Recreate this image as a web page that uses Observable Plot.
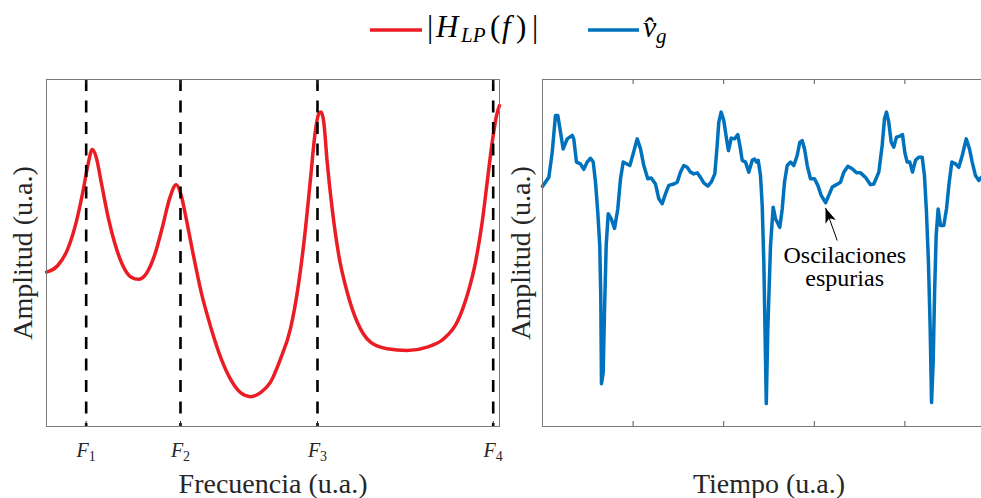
<!DOCTYPE html>
<html>
<head>
<meta charset="utf-8">
<script src="https://cdn.jsdelivr.net/npm/d3@7"></script>
<script src="https://cdn.jsdelivr.net/npm/@observablehq/plot@0.6"></script>
<style>
  html, body { margin: 0; padding: 0; background: #fff; overflow: hidden; }
  #fig { position: relative; width: 981px; height: 498px; overflow: hidden; background: #fff; }
  #legend { position: absolute; left: 0; top: 0; width: 981px; height: 60px; }
  #left { position: absolute; left: 0; top: 60px; width: 500px; height: 438px; }
  #right { position: absolute; left: 500px; top: 60px; width: 500px; height: 438px; }
  #left svg, #right svg { max-width: none !important; }
</style>
</head>
<body>
<div id="fig">
  <div id="legend"></div>
  <div id="left"></div>
  <div id="right"></div>
</div>
<script>
// Low-pass filter magnitude response |H_LP(f)| (arbitrary units)
const freq = [0, 2.49, 4.70, 6.56, 8.01, 9.12, 10.09, 10.97, 12.08, 13.53, 15.01, 16.84, 18.70, 20.31, 22.01, 23.84, 25.67, 27.15, 28.63, 29.74, 30.84, 32.30, 34.15, 36.36, 38.57, 40.77, 42.98, 45.03, 47.40, 49.45, 51.66, 53.86, 55.70, 57.17, 58.28, 59.23, 60.11, 60.64, 61.21, 61.96, 63.07, 64.53, 66.38, 68.59, 71.52, 75.21, 79.62, 84.04, 87.70, 90.66, 92.87, 94.70, 96.18, 97.28, 98.39, 99.34, 100];
const magnitude = [44.5, 46.4, 51.2, 58.9, 67.5, 75.2, 79.8, 77.6, 70.4, 60.8, 53.1, 46.4, 43.0, 42.4, 44.0, 49.3, 57.9, 65.6, 69.7, 66.6, 59.9, 50.2, 38.7, 28.2, 19.5, 13.3, 9.6, 8.6, 9.9, 12.8, 19.5, 28.2, 41.6, 57.0, 71.4, 83.9, 90.1, 90.6, 87.7, 76.2, 62.7, 49.3, 38.7, 30.1, 24.3, 22.4, 21.9, 22.9, 25.3, 30.1, 37.8, 47.3, 58.9, 70.4, 81.9, 89.6, 92.5];

// Formant frequencies F1..F4
const formants = [8.76, 29.58, 59.82, 98.61];
const formantNames = ["F1", "F2", "F3", "F4"];

// Estimated glottal flow derivative v̂_g over time (arbitrary units)
const time = [0, 0.070, 0.107, 0.143, 0.169, 0.199, 0.228, 0.273, 0.328, 0.345, 0.375, 0.419, 0.456, 0.493, 0.530, 0.560, 0.585, 0.610, 0.632, 0.643, 0.651, 0.670, 0.684, 0.703, 0.725, 0.758, 0.795, 0.831, 0.861, 0.891, 0.927, 0.964, 1.001, 1.045, 1.082, 1.118, 1.162, 1.200, 1.247, 1.284, 1.321, 1.358, 1.394, 1.449, 1.487, 1.523, 1.560, 1.597, 1.634, 1.670, 1.708, 1.744, 1.780, 1.825, 1.862, 1.902, 1.928, 1.946, 1.972, 2.001, 2.031, 2.053, 2.083, 2.119, 2.156, 2.185, 2.204, 2.241, 2.277, 2.315, 2.340, 2.362, 2.381, 2.406, 2.425, 2.443, 2.470, 2.487, 2.517, 2.546, 2.572, 2.619, 2.646, 2.671, 2.701, 2.737, 2.774, 2.811, 2.840, 2.866, 2.892, 2.922, 2.958, 3.002, 3.039, 3.076, 3.124, 3.160, 3.198, 3.245, 3.289, 3.326, 3.370, 3.418, 3.466, 3.510, 3.565, 3.620, 3.657, 3.712, 3.749, 3.775, 3.797, 3.822, 3.849, 3.877, 3.907, 3.944, 3.974, 3.999, 4.025, 4.054, 4.084, 4.117, 4.153, 4.191, 4.216, 4.238, 4.260, 4.279, 4.294, 4.312, 4.327, 4.345, 4.367, 4.393, 4.429, 4.459, 4.489, 4.518, 4.558, 4.595, 4.633, 4.677, 4.713, 4.743, 4.779, 4.816, 4.845];
const amplitude = [69.2, 71.8, 79.0, 89.6, 89.6, 84.8, 80.0, 82.9, 83.9, 82.9, 76.2, 75.7, 74.1, 76.2, 77.3, 76.2, 70.4, 61.8, 52.2, 37.8, 12.3, 15.6, 32.9, 52.2, 61.3, 59.9, 57.1, 62.7, 71.4, 76.2, 75.7, 75.2, 78.6, 82.9, 80.0, 75.2, 71.4, 71.6, 69.9, 65.6, 64.2, 67.1, 69.5, 69.9, 70.4, 73.3, 75.2, 74.7, 73.3, 72.8, 73.1, 71.8, 70.2, 69.3, 70.4, 72.8, 81.0, 87.7, 90.6, 88.2, 82.9, 79.5, 83.1, 82.9, 84.1, 80.0, 76.7, 76.2, 73.3, 76.7, 77.1, 76.2, 76.7, 72.3, 63.7, 47.3, 6.6, 28.2, 52.2, 63.2, 59.9, 57.4, 62.7, 70.4, 75.2, 76.2, 75.2, 78.1, 81.9, 82.4, 80.0, 75.2, 71.4, 71.4, 69.5, 66.6, 64.5, 66.6, 69.0, 69.7, 70.4, 73.3, 75.0, 74.3, 73.1, 73.1, 71.8, 69.7, 69.9, 73.3, 81.0, 88.7, 90.6, 87.7, 81.9, 80.5, 83.4, 83.7, 84.1, 79.0, 76.2, 76.2, 73.3, 76.7, 77.6, 77.6, 72.3, 61.8, 47.3, 28.2, 6.9, 18.5, 37.8, 55.0, 62.7, 57.9, 57.9, 62.7, 70.4, 76.2, 75.7, 74.7, 78.1, 82.9, 80.0, 76.2, 72.3, 70.9, 71.8];
const timeTicks = [0, 1, 2, 3, 4, 5];

// Annotation pointing at the spurious ripple
const noteLines = ["Oscilaciones", "espurias"];
const noteArrow = {x1: 3.253, y1: 53.6, x2: 3.124, y2: 63.0};
const notePos = [{x: 3.337, y: 52.0}, {x: 3.335, y: 45.4}];

const RED = "#ec1c24";
const BLUE = "#0072bd";
const serif = '"Liberation Serif", "Times New Roman", serif';
const H = 438, MT = 19, MB = 72;
const inner = H - MT - MB;
const tickLen = 5;

const freqData = freq.map((f, i) => ({f, m: magnitude[i]}));
const timeData = time.map((t, i) => ({t, a: amplitude[i]}));
const noteData = noteLines.map((s, i) => ({...notePos[i], s}));

// Filled arrowhead (tip at the end of the vector)
const arrowHead = {
  draw(context, l) {
    context.moveTo(0, -l);
    context.lineTo(-5.5, 0);
    context.lineTo(0, -4);
    context.lineTo(5.5, 0);
    context.closePath();
  }
};

const baseStyle = {fontFamily: serif, color: "#262626", background: "transparent", overflow: "visible", maxWidth: "none"};

const left = Plot.plot({
  width: 500, height: H,
  marginLeft: 46, marginRight: 1, marginTop: MT, marginBottom: MB,
  x: {domain: [0, 100], axis: null},
  y: {domain: [0, 100], axis: null},
  style: baseStyle,
  marks: [
    Plot.line(freqData, {x: "f", y: "m", stroke: RED, strokeWidth: 3.5, curve: "monotone-x"}),
    Plot.ruleX(formants, {stroke: "#000", strokeWidth: 2.6, strokeDasharray: "12,9.5"}),
    Plot.ruleX(formants, {stroke: "#262626", strokeWidth: 1, insetTop: inner - tickLen}),
    Plot.ruleX(formants, {stroke: "#262626", strokeWidth: 1, insetBottom: inner - tickLen}),
    Plot.frame({stroke: "#7a7a7a", strokeWidth: 1}),
    Plot.text(formants, {x: d => d, frameAnchor: "bottom", dy: 30, lineAnchor: "bottom", textAnchor: "middle",
      text: (d, i) => formantNames[i], fontSize: 20, fill: "#262626"}),
    Plot.text(["Frecuencia (u.a.)"], {frameAnchor: "bottom", dy: 66, lineAnchor: "bottom", textAnchor: "middle",
      text: d => d, fontSize: 28, fill: "#262626"}),
    Plot.text(["Amplitud (u.a.)"], {frameAnchor: "left", dx: -23, rotate: -90, textAnchor: "middle",
      text: d => d, fontSize: 28, fill: "#262626"})
  ]
});

const right = Plot.plot({
  width: 500, height: H,
  marginLeft: 42, marginRight: 5, marginTop: MT, marginBottom: MB,
  x: {domain: [0, 5], axis: null},
  y: {domain: [0, 100], axis: null},
  style: baseStyle,
  marks: [
    Plot.ruleX(timeTicks, {stroke: "#555", strokeWidth: 1, insetTop: inner - tickLen}),
    Plot.ruleX(timeTicks, {stroke: "#555", strokeWidth: 1, insetBottom: inner - tickLen}),
    Plot.line(timeData, {x: "t", y: "a", stroke: BLUE, strokeWidth: 3.5, strokeLinejoin: "round"}),
    Plot.link([noteArrow], {x1: "x1", y1: "y1", x2: "x2", y2: "y2", stroke: "#000", strokeWidth: 1}),
    Plot.vector([noteArrow], {x: "x2", y: "y2", length: 15, rotate: -20, anchor: "end",
      shape: arrowHead, fill: "#000", stroke: "none"}),
    Plot.text(noteData, {x: "x", y: "y", text: "s", lineAnchor: "top", textAnchor: "middle",
      fontSize: 24, fill: "#000"}),
    Plot.frame({stroke: "#7a7a7a", strokeWidth: 1}),
    Plot.text(["Tiempo (u.a.)"], {frameAnchor: "bottom", dy: 66, lineAnchor: "bottom", textAnchor: "middle",
      text: d => d, fontSize: 28, fill: "#262626"}),
    Plot.text(["Amplitud (u.a.)"], {frameAnchor: "left", dx: -21, rotate: -90, textAnchor: "middle",
      text: d => d, fontSize: 28, fill: "#262626"})
  ]
});

// Formant tick labels: italic F with a subscript index
d3.select(left).selectAll("text")
  .filter(function () { return /^F\d$/.test(this.textContent); })
  .each(function () {
    const s = this.textContent;
    const t = d3.select(this);
    t.text("");
    t.append("tspan").attr("font-style", "italic").text(s[0]);
    t.append("tspan").attr("font-size", 14).attr("dy", 4).text(s.slice(1));
  });

document.getElementById("left").append(left);
document.getElementById("right").append(right);

// Legend
const lg = d3.select("#legend").append("svg")
  .attr("width", 981).attr("height", 60)
  .style("font-family", serif);
lg.append("line").attr("x1", 370).attr("x2", 422).attr("y1", 30).attr("y2", 30)
  .attr("stroke", RED).attr("stroke-width", 3.5);
lg.append("line").attr("x1", 588).attr("x2", 639).attr("y1", 30).attr("y2", 30)
  .attr("stroke", BLUE).attr("stroke-width", 3.5);
const t1 = lg.append("text").attr("y", 37).attr("font-size", 31).attr("fill", "#000");
t1.append("tspan").attr("x", 427).text("|");
t1.append("tspan").attr("x", 436).attr("font-style", "italic").text("H");
t1.append("tspan").attr("x", 461).attr("y", 42).attr("font-size", 21).attr("font-style", "italic").text("LP");
t1.append("tspan").attr("x", 490).attr("y", 37).text("(");
t1.append("tspan").attr("x", 502).attr("font-style", "italic").text("f");
t1.append("tspan").attr("x", 516).text(")");
t1.append("tspan").attr("x", 532).text("|");
const t2 = lg.append("text").attr("y", 37).attr("font-size", 30).attr("fill", "#000");
t2.append("tspan").attr("x", 643).attr("font-style", "italic").text("v\u0302");
t2.append("tspan").attr("x", 656).attr("y", 43).attr("font-size", 21).attr("font-style", "italic").text("g");
</script>
</body>
</html>
